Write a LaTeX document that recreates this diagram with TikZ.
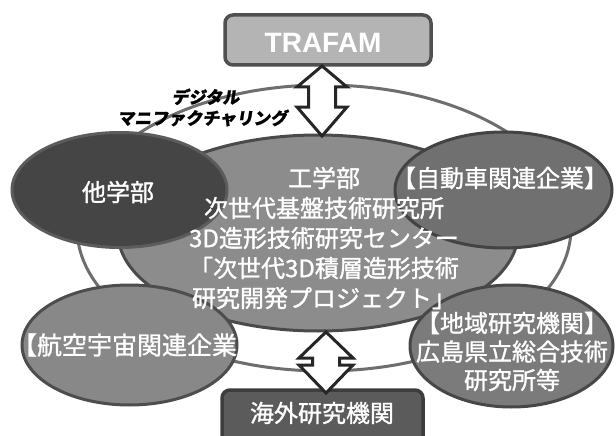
\documentclass[tikz,border=0pt]{standalone}
\usepackage{fontspec}
\setmainfont{Noto Sans CJK JP}
\newfontfamily\jpm[FakeBold=1.2]{Noto Sans CJK JP}
\newfontfamily\latinfont{Liberation Sans}
\usetikzlibrary{shapes.geometric}
\definecolor{outerline}{HTML}{6E6E6E}
\definecolor{centerfill}{HTML}{8C8C8C}
\definecolor{centerline}{HTML}{4A4A4A}
\definecolor{otherfill}{HTML}{454545}
\definecolor{otherline}{HTML}{5C5C5C}
\definecolor{carfill}{HTML}{707070}
\definecolor{carline}{HTML}{434343}
\definecolor{aerofill}{HTML}{888888}
\definecolor{aeroline}{HTML}{4D4D4D}
\definecolor{regfill}{HTML}{7B7B7B}
\definecolor{regline}{HTML}{474747}
\definecolor{trafamfill}{HTML}{B4B4B4}
\definecolor{trafamline}{HTML}{505050}
\definecolor{kaigaifill}{HTML}{5B5B5B}
\definecolor{kaigailine}{HTML}{3D3D3D}
\definecolor{arrowline}{HTML}{262626}
\begin{document}
\begin{tikzpicture}[x=1pt,y=-1pt,
  oval/.style={ellipse, draw, line width=3pt, inner sep=0pt},
  box/.style={rectangle, rounded corners=8pt, draw, line width=3.5pt, inner sep=0pt},
  wtxt/.style={text=white, font=\jpm\fontsize{24}{24}\selectfont, inner sep=0pt},
  blockarrow/.style={draw=arrowline, fill=white, line width=3pt, line join=miter}]
\useasboundingbox (0,0) rectangle (616,436);
% outer ring
\node[oval, draw=outerline, fill=white, minimum width=494pt, minimum height=286pt] (outer) at (324,228) {};
% central ellipse
\node[oval, draw=centerline, fill=centerfill, minimum width=400pt, minimum height=196pt] (center) at (318,233) {};
% satellites
\node[oval, draw=otherline, fill=otherfill, minimum width=215pt, minimum height=115pt] (other) at (119.5,190) {};
\node[oval, draw=carline, fill=carfill, minimum width=217pt, minimum height=116pt] (car) at (503.5,190) {};
\node[oval, draw=aeroline, fill=aerofill, minimum width=215pt, minimum height=120pt] (aero) at (129.5,345) {};
\node[oval, draw=regline, fill=regfill, minimum width=203pt, minimum height=122pt] (reg) at (511.5,346) {};
% boxes
\node[box, draw=trafamline, fill=trafamfill, minimum width=206pt, minimum height=50pt] (trafam) at (328,40) {};
\node[box, draw=kaigailine, fill=kaigaifill, minimum width=201pt, minimum height=60pt] (kaigai) at (322.5,420) {};
% block arrows
\draw[blockarrow] (322,66) -- (347,87) -- (335.5,87) -- (335.5,107) -- (347,107) -- (322,136)
  -- (297,107) -- (308.5,107) -- (308.5,87) -- (297,87) -- cycle;
\draw[blockarrow] (326,332) -- (353,358) -- (339.5,358) -- (339.5,365) -- (353,365) -- (326,393)
  -- (299,365) -- (312.5,365) -- (312.5,358) -- (299,358) -- cycle;
% texts
\node[text=white, font=\latinfont\bfseries\fontsize{28}{28}\selectfont, inner sep=0pt] (ttrafam) at (323,43) {TRAFAM};
\node[font=\jpm\bfseries\fontsize{17}{21}\selectfont, align=center, inner sep=0pt, xslant=0.15] (tdigital) at (205,107.5) {デジタル\\マニファクチャリング};
\node[wtxt] (tother) at (118,192) {他学部};
\node[wtxt, font=\jpm\fontsize{24}{30}\selectfont, align=center] (tcenter) at (324,238) {工学部\\次世代基盤技術研究所\\3D造形技術研究センター\\「次世代3D積層造形技術\\研究開発プロジェクト」};
\node[wtxt] (tcar) at (500,178) {【自動車関連企業】};
\node[wtxt, font=\jpm\fontsize{25}{25}\selectfont] (taero) at (137,345) {【航空宇宙関連企業】};
\node[wtxt, font=\jpm\fontsize{24}{28.5}\selectfont, align=center] (treg) at (512,351.5) {【地域研究機関】\\広島県立総合技術\\研究所等};
\node[wtxt] (tkaigai) at (322,413) {海外研究機関};
\end{tikzpicture}
\end{document}
